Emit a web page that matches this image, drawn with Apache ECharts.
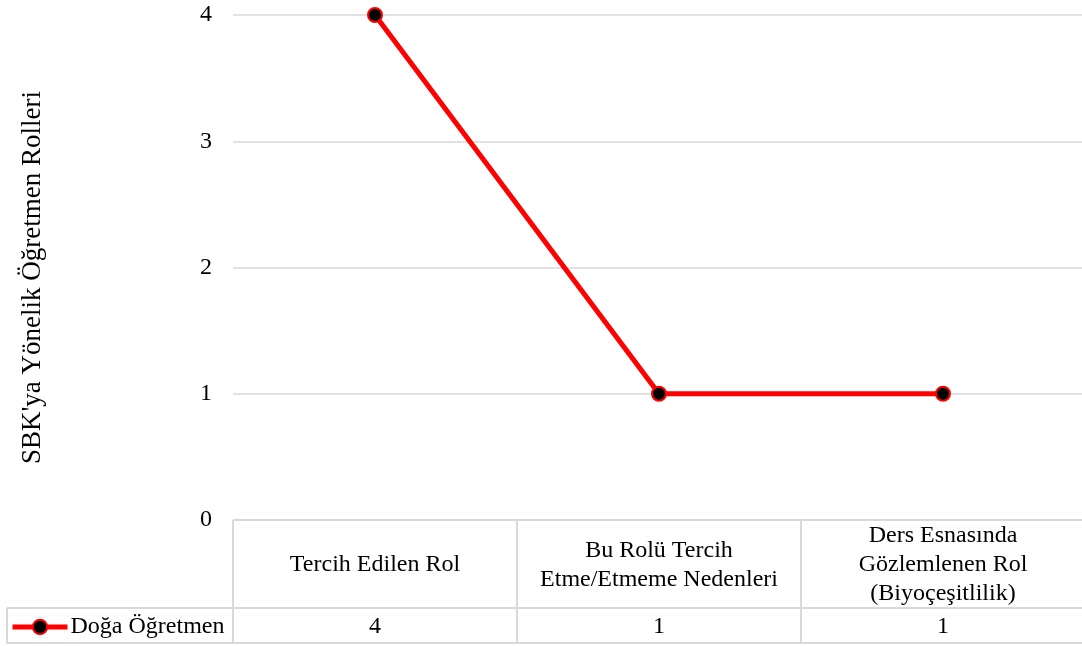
<!DOCTYPE html>
<html>
<head>
<meta charset="utf-8">
<script src="https://cdn.jsdelivr.net/npm/echarts@6/dist/echarts.min.js"></script>
<style>
  html, body { margin: 0; padding: 0; background: #fff; }
  #chart { width: 1082px; height: 646px; }
</style>
</head>
<body>
<div id="chart"></div>
<script>
// Role categories (table header row), series values and y-axis ticks
const categories = [
  'Tercih Edilen Rol',
  'Bu Rolü Tercih\nEtme/Etmeme Nedenleri',
  'Ders Esnasında\nGözlemlenen Rol\n(Biyoçeşitlilik)'
];
const seriesName = 'Doğa Öğretmen';
const values = [4, 1, 1];
const yTicks = [0, 1, 2, 3, 4];
const yTitle = "SBK'ya Yönelik Öğretmen Rolleri";

const FONT = "'Liberation Serif', 'Times New Roman', serif";
const GRID_COLOR = '#d9d9d9';
const TEXT_COLOR = '#000';

const chart = echarts.init(document.getElementById('chart'), null, { renderer: 'canvas' });

// Data table below the plot: header row with category names, value row beneath,
// plus the legend cell that sits left of the value row.
function renderTableCell(params, api) {
  const idx = api.value(0);
  const val = api.value(1);
  const width = api.size([1, 0])[0];
  const cx = api.coord([idx, 0])[0];
  const top = api.coord([idx, 0])[1];
  const mid = api.coord([idx, 88])[1];
  const bottom = api.coord([idx, 124])[1];
  const x0 = cx - width / 2;
  const x1 = cx + width / 2;
  const line = (xa, ya, xb, yb) => ({
    type: 'line',
    shape: { x1: xa, y1: ya, x2: xb, y2: yb },
    style: { stroke: GRID_COLOR, lineWidth: 2 },
    silent: true
  });
  const children = [
    line(x0, top, x1, top),
    line(x0, mid, x1, mid),
    line(x0, bottom - 1, x1, bottom - 1),
    line(x0, top, x0, bottom),
    line(x1, top, x1, bottom),
    {
      type: 'text',
      style: {
        x: cx, y: (top + mid) / 2 + 1,
        text: categories[idx],
        align: 'center', verticalAlign: 'middle',
        font: '24px ' + FONT, fill: TEXT_COLOR, lineHeight: 29
      }
    },
    {
      type: 'text',
      style: {
        x: cx, y: (mid + bottom) / 2 + 1,
        text: String(val),
        align: 'center', verticalAlign: 'middle',
        font: '24px ' + FONT, fill: TEXT_COLOR
      }
    }
  ];
  if (idx === 0) {
    // legend cell frame
    const lx = 7;
    children.push(line(lx, mid, x0, mid));
    children.push(line(lx, bottom - 1, x0, bottom - 1));
    children.push(line(lx, mid, lx, bottom));
  }
  return { type: 'group', children };
}

const option = {
  animation: false,
  backgroundColor: '#fff',
  textStyle: { fontFamily: FONT },
  legend: {
    show: true,
    data: [seriesName],
    left: 5,
    top: 610,
    itemWidth: 55,
    itemHeight: 18,
    lineStyle: { width: 5 },
    itemStyle: { borderWidth: 2 },
    textStyle: { fontFamily: FONT, fontSize: 24, color: TEXT_COLOR, padding: [0, 0, 0, -2] }
  },
  grid: [
    { left: 233, top: 15, width: 852, height: 505, outerBoundsMode: 'none', containLabel: false },
    { left: 233, top: 520, width: 852, height: 124, outerBoundsMode: 'none', containLabel: false }
  ],
  xAxis: [
    {
      type: 'category', gridIndex: 0, data: categories, boundaryGap: true,
      axisLine: { show: false }, axisTick: { show: false }, axisLabel: { show: false },
      splitLine: { show: false }
    },
    {
      type: 'category', gridIndex: 1, data: categories, boundaryGap: true,
      axisLine: { show: false }, axisTick: { show: false }, axisLabel: { show: false },
      splitLine: { show: false }
    }
  ],
  yAxis: [
    {
      type: 'value', gridIndex: 0,
      min: yTicks[0], max: yTicks[yTicks.length - 1], interval: 1,
      axisLine: { show: false }, axisTick: { show: false },
      axisLabel: { margin: 21, fontFamily: FONT, fontSize: 24, color: TEXT_COLOR },
      splitLine: { lineStyle: { color: GRID_COLOR, width: 1.5 } },
      name: yTitle, nameLocation: 'middle', nameGap: 187,
      nameTextStyle: { fontFamily: FONT, fontSize: 27, color: TEXT_COLOR, padding: [0, 20, 0, 0] }
    },
    {
      type: 'value', gridIndex: 1, min: 0, max: 124, inverse: true, show: false
    }
  ],
  series: [
    {
      name: seriesName,
      type: 'line',
      xAxisIndex: 0, yAxisIndex: 0,
      data: values,
      symbol: 'circle',
      symbolSize: 14,
      lineStyle: { color: '#ff0000', width: 5 },
      itemStyle: { color: '#000', borderColor: '#ff0000', borderWidth: 2 },
      z: 5
    },
    {
      type: 'custom',
      xAxisIndex: 1, yAxisIndex: 1,
      data: values.map((v, i) => [i, v]),
      renderItem: renderTableCell,
      silent: true
    }
  ]
};

chart.setOption(option);
</script>
</body>
</html>
